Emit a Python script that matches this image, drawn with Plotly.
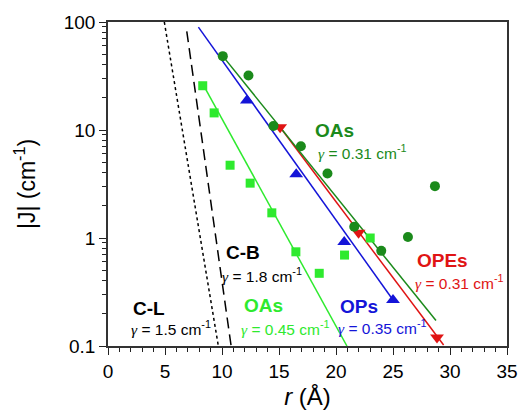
import plotly.graph_objects as go

# ---- data ----
oa_dark_r = [10.07, 12.32, 14.51, 16.92, 19.25, 21.6, 23.97, 26.31, 28.68]
oa_dark_J = [48.3, 32.0, 10.9, 7.07, 3.95, 1.27, 0.76, 1.02, 3.02]

ope_r = [15.10, 21.98, 28.86]
ope_J = [10.6, 1.12, 0.12]

op_r = [12.18, 16.51, 20.72, 25.0]
op_J = [18.8, 3.9, 0.92, 0.267]

oa_light_r = [8.31, 9.31, 10.71, 12.47, 14.37, 16.48, 18.53, 20.75, 23.0]
oa_light_J = [25.7, 14.4, 4.72, 3.22, 1.71, 0.745, 0.471, 0.695, 1.0]

# fitted lines (end points)
fit_oa_dark_r = [10.07, 28.77]
fit_oa_dark_J = [48.3, 0.172]
fit_ope_r = [15.10, 29.44]
fit_ope_J = [10.6, 0.102]
fit_op_r = [7.93, 25.0]
fit_op_J = [89.6, 0.267]
fit_oa_light_r = [8.43, 20.96]
fit_oa_light_J = [25.4, 0.1]
cl_r = [4.94, 9.68]
cl_J = [100, 0.1]
cb_r = [6.91, 10.8]
cb_J = [82, 0.1]

x_ticks = [0, 5, 10, 15, 20, 25, 30, 35]
y_ticks = [0.1, 1, 10, 100]
y_ticktext = ["0.1", "1", "10", "100"]

DARK = "#1b8a1b"
LIGHT = "#2eea2e"
BLUE = "#1414d8"
RED = "#e01414"
FONT = "Liberation Sans, Arial, Helvetica, sans-serif"
GAMMA = "<span style='font-family:Liberation Serif, serif'><i>γ</i></span>"

fig = go.Figure()

def line(x, y, color, dash="solid", width=1.5):
    fig.add_trace(go.Scatter(x=x, y=y, mode="lines", showlegend=False,
                             line=dict(color=color, width=width, dash=dash),
                             hoverinfo="skip"))

line(cl_r, cl_J, "black", dash="dot", width=1.5)
line(cb_r, cb_J, "black", dash="11px,6px", width=1.5)
line(fit_oa_light_r, fit_oa_light_J, LIGHT)
line(fit_op_r, fit_op_J, BLUE)
line(fit_ope_r, fit_ope_J, RED)
line(fit_oa_dark_r, fit_oa_dark_J, DARK)

fig.add_trace(go.Scatter(x=oa_light_r, y=oa_light_J, mode="markers", showlegend=False,
                         marker=dict(symbol="square", size=9, color=LIGHT)))
fig.add_trace(go.Scatter(x=op_r, y=op_J, mode="markers", showlegend=False,
                         marker=dict(symbol="triangle-up", size=12, color=BLUE)))
fig.add_trace(go.Scatter(x=ope_r, y=ope_J, mode="markers", showlegend=False,
                         marker=dict(symbol="triangle-down", size=12, color=RED)))
fig.add_trace(go.Scatter(x=oa_dark_r, y=oa_dark_J, mode="markers", showlegend=False,
                         marker=dict(symbol="circle", size=10, color=DARK)))

labels = [
    ("<b>OAs</b>", 0.567, 0.6645, DARK, 19),
    (GAMMA + " = 0.31 cm<sup>-1</sup>", 0.638, 0.598, DARK, 15.5),
    ("<b>OPEs</b>", 0.8385, 0.2654, RED, 19),
    (GAMMA + " = 0.31 cm<sup>-1</sup>", 0.880, 0.198, RED, 15.5),
    ("<b>OPs</b>", 0.6295, 0.1213, BLUE, 19),
    (GAMMA + " = 0.35 cm<sup>-1</sup>", 0.6885, 0.0586, BLUE, 15.5),
    ("<b>OAs</b>", 0.3895, 0.1265, LIGHT, 19),
    (GAMMA + " = 0.45 cm<sup>-1</sup>", 0.4439, 0.0555, LIGHT, 15.5),
    ("<b>C-B</b>", 0.3386, 0.2892, "black", 19),
    (GAMMA + " = 1.8 cm<sup>-1</sup>", 0.387, 0.220, "black", 15.5),
    ("<b>C-L</b>", 0.1028, 0.1164, "black", 19),
    (GAMMA + " = 1.5 cm<sup>-1</sup>", 0.1573, 0.0555, "black", 15.5),
]
for text, x, y, color, size in labels:
    fig.add_annotation(text=text, x=x, y=y, xref="paper", yref="paper",
                       xanchor="center", yanchor="middle", showarrow=False,
                       font=dict(color=color, size=size, family=FONT))

fig.update_layout(
    width=521, height=420,
    margin=dict(l=108, r=14, t=22, b=74),
    paper_bgcolor="white", plot_bgcolor="white",
    font=dict(family=FONT, color="black"),
    xaxis=dict(range=[0, 35], tickvals=x_ticks, ticks="outside", ticklen=7,
               tickwidth=1.2, tickcolor="#222", showgrid=False, zeroline=False,
               showline=True, linecolor="#333", linewidth=1.5, mirror=True,
               tickfont=dict(size=19), automargin=False,
               minor=dict(ticks="outside", ticklen=4, dtick=1, tickcolor="#222",
                          tickwidth=1, showgrid=False),
               title=dict(text="<i>r</i> (Å)", font=dict(size=24), standoff=8)),
    yaxis=dict(type="log", range=[-1, 2], tickvals=y_ticks, ticktext=y_ticktext,
               ticks="outside", ticklen=7, tickwidth=1.2, tickcolor="#222",
               showgrid=False, zeroline=False, showline=True, linecolor="#333",
               linewidth=1.5, mirror=True, tickfont=dict(size=19), automargin=False,
               minor=dict(ticks="outside", ticklen=4, dtick="D1", tickcolor="#222",
                          tickwidth=1, showgrid=False),
               title=dict(text="|J| (cm<sup>-1</sup>)", font=dict(size=23), standoff=22)),
)

fig.write_html("out.html",
               config={"displayModeBar": False},
               post_script="document.body.style.margin='0px';"
                           "document.body.style.overflow='hidden';")
